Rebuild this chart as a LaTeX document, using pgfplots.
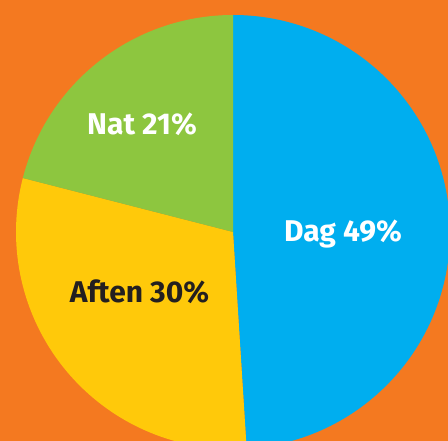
\documentclass[border=0pt]{standalone}
\usepackage{fontspec}
\setmainfont{Fira Sans}
\usepackage{pgfplots}
\pgfplotsset{compat=1.18}

\definecolor{bgorange}{HTML}{F47920}
\definecolor{dagblue}{HTML}{00AEEF}
\definecolor{aftenyellow}{HTML}{FFC90A}
\definecolor{natgreen}{HTML}{8DC63F}
\definecolor{darktext}{HTML}{231F20}

% pie centre and radius in axis units (1 unit = 1pt)
\def\cx{233}
\def\cy{209}
\def\rad{217}
% shares in percent
\def\sDag{49}
\def\sAften{30}
\def\sNat{21}
% slice angles, clockwise from 12 o'clock
\pgfmathsetmacro{\aA}{90}
\pgfmathsetmacro{\aB}{\aA-3.6*\sDag}
\pgfmathsetmacro{\aC}{\aB-3.6*\sAften}
\pgfmathsetmacro{\aD}{\aC-3.6*\sNat}

\begin{document}
\begin{tikzpicture}
\begin{axis}[
x=1pt,y=1pt,
xmin=0,xmax=448,ymin=0,ymax=441,
hide axis,clip=true,
]
\fill[bgorange] (axis cs:0,0) rectangle (axis cs:448,441);
\fill[dagblue] (axis cs:\cx,\cy) -- ++(\aA:\rad pt) arc[start angle=\aA,end angle=\aB,radius=\rad pt] -- cycle;
\fill[aftenyellow] (axis cs:\cx,\cy) -- ++(\aB:\rad pt) arc[start angle=\aB,end angle=\aC,radius=\rad pt] -- cycle;
\fill[natgreen] (axis cs:\cx,\cy) -- ++(\aC:\rad pt) arc[start angle=\aC,end angle=\aD,radius=\rad pt] -- cycle;
\node[anchor=base,text=white,font=\bfseries\fontsize{30}{30}\selectfont] at (axis cs:343,199) {Dag 49\%};
\node[anchor=base,text=darktext,font=\bfseries\fontsize{30}{30}\selectfont] at (axis cs:139.5,138) {Aften 30\%};
\node[anchor=base,text=white,font=\bfseries\fontsize{30}{30}\selectfont] at (axis cs:142,306) {Nat 21\%};
\coordinate (sw) at (axis cs:0,0);
\coordinate (ne) at (axis cs:448,441);
\end{axis}
\pgfresetboundingbox
\path (sw) rectangle (ne);
\end{tikzpicture}
\end{document}
